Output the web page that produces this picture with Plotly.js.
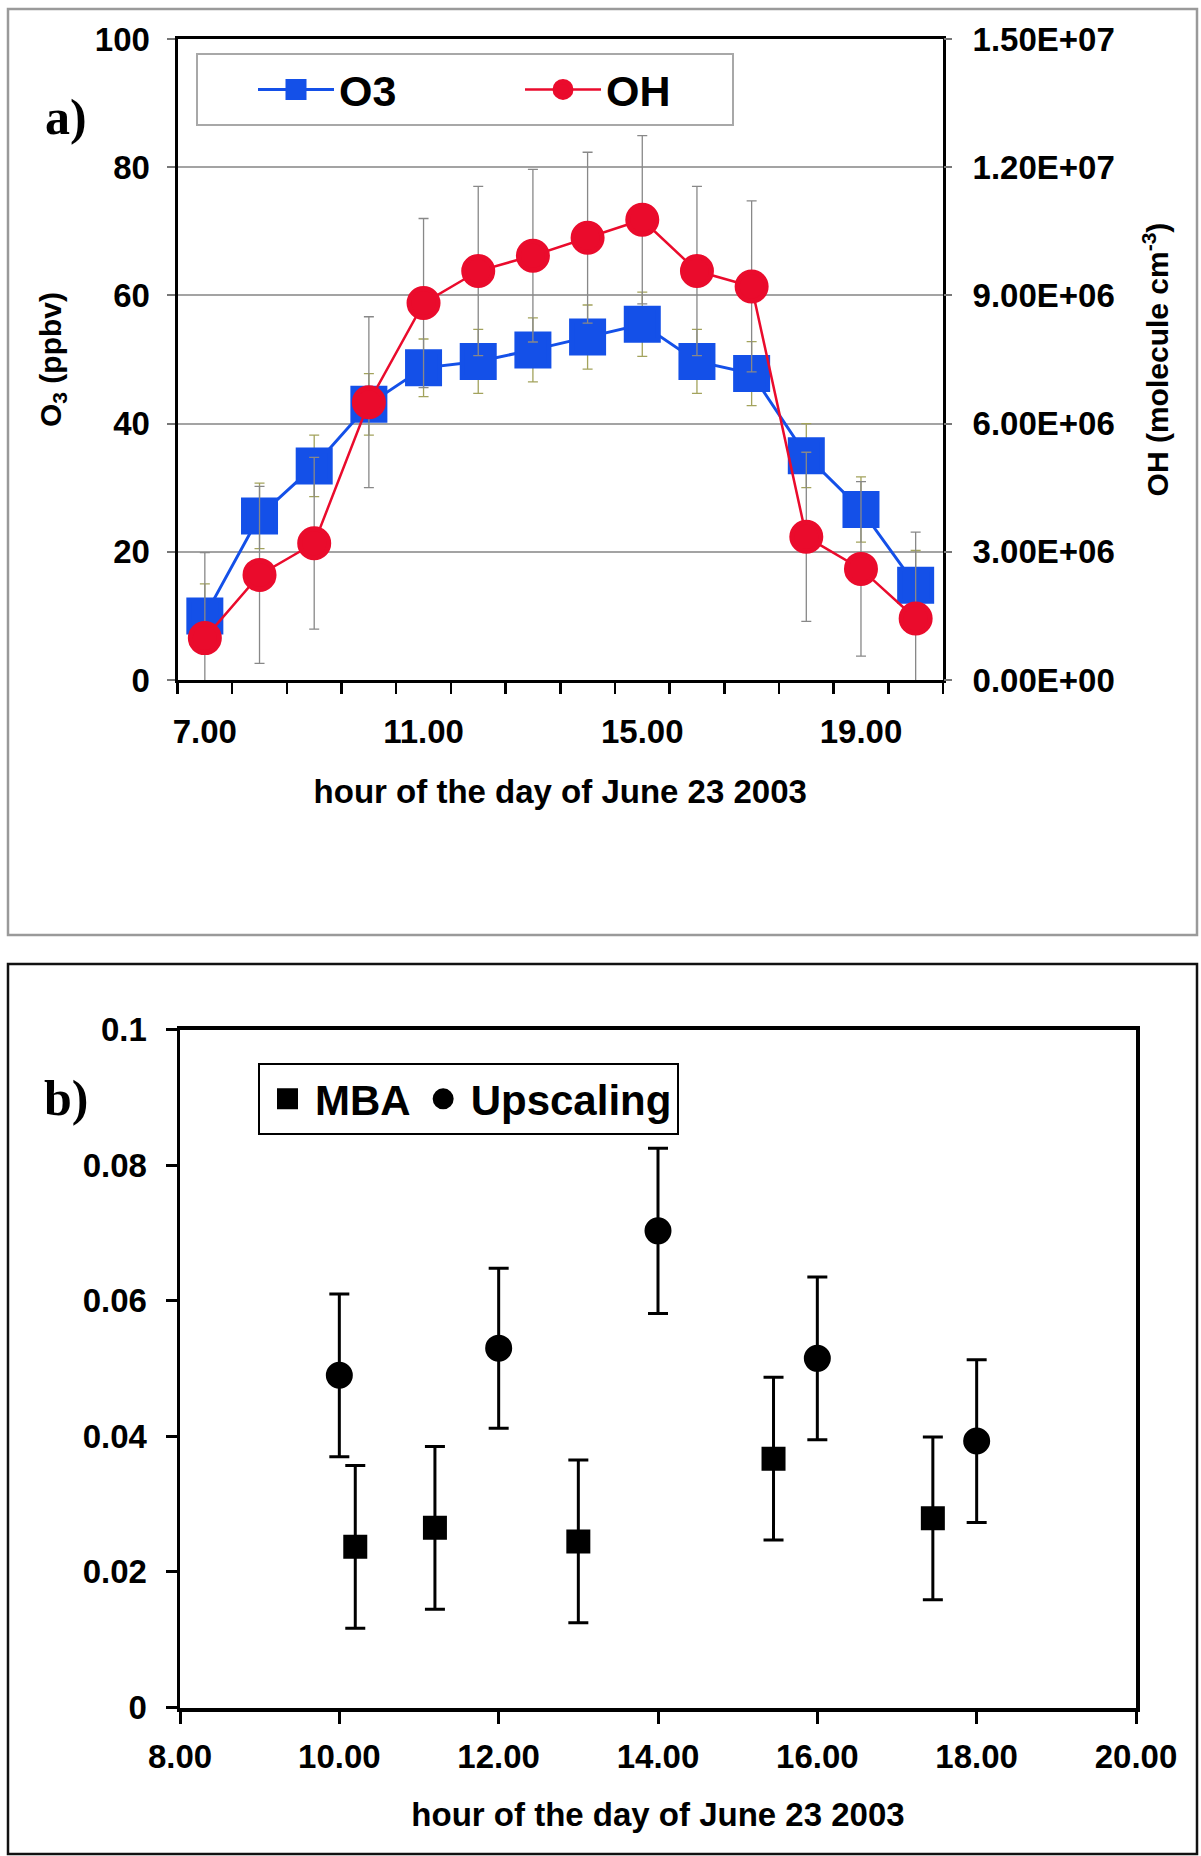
<!DOCTYPE html>
<html>
<head>
<meta charset="utf-8">
<script src="https://cdn.plot.ly/plotly-3.0.1.min.js"></script>
<style>
html,body{margin:0;padding:0;background:#fff;}
#chart{width:1201px;height:1856px;}
</style>
</head>
<body>
<div id="chart"></div>
<script>
// ---------- Panel a data ----------
const hours = [7, 8, 9, 10, 11, 12, 13, 14, 15, 16, 17, 18, 19, 20];
const o3 = [10, 25.6, 33.4, 43, 48.7, 49.7, 51.5, 53.5, 55.5, 49.7, 47.8, 35.0, 26.6, 14.8];
const o3Err = [5, 5.1, 4.8, 4.8, 4.5, 5, 5, 5, 5, 5, 5, 5, 5.1, 5.4];
const oh = [0.98e6, 2.46e6, 3.2e6, 6.5e6, 8.82e6, 9.57e6, 9.93e6, 10.35e6, 10.77e6, 9.57e6, 9.21e6, 3.35e6, 2.6e6, 1.44e6];
const ohErr = [2.0e6, 2.07e6, 2.01e6, 2.0e6, 1.98e6, 1.98e6, 2.02e6, 2.0e6, 1.97e6, 1.98e6, 2.0e6, 1.98e6, 2.04e6, 2.02e6];
const aXTickVals = [7, 11, 15, 19];
const aXTickText = ['7.00', '11.00', '15.00', '19.00'];
const aYTickVals = [0, 20, 40, 60, 80, 100];
const aYTickText = ['0', '20', '40', '60', '80', '100'];
const ohTickVals = [0, 3e6, 6e6, 9e6, 1.2e7, 1.5e7];
const ohTickText = ['0.00E+00', '3.00E+06', '6.00E+06', '9.00E+06', '1.20E+07', '1.50E+07'];

// ---------- Panel b data ----------
const mbaHour = [10.2, 11.2, 13.0, 15.45, 17.45];
const mba = [0.0237, 0.0265, 0.0245, 0.0367, 0.0279];
const mbaErr = [0.012, 0.012, 0.012, 0.012, 0.012];
const upHour = [10, 12, 14, 16, 18];
const up = [0.049, 0.053, 0.0703, 0.0515, 0.0393];
const upErr = [0.012, 0.0118, 0.0122, 0.012, 0.012];
const bXTickVals = [8, 10, 12, 14, 16, 18, 20];
const bXTickText = ['8.00', '10.00', '12.00', '14.00', '16.00', '18.00', '20.00'];
const bYTickVals = [0, 0.02, 0.04, 0.06, 0.08, 0.1];
const bYTickText = ['0', '0.02', '0.04', '0.06', '0.08', '0.1'];

// ---------- layout helpers ----------
const W = 1201, H = 1856;
const px = v => v / W;
const py = v => 1 - v / H;
const FONT = 'Liberation Sans, Arial, sans-serif';
const SERIF = 'Liberation Serif, Times New Roman, serif';
const BLUE = '#1450e8';
const RED = '#ea0b2c';

const traces = [
  {
    name: 'O3', x: hours, y: o3, xaxis: 'x', yaxis: 'y', legend: 'legend',
    type: 'scatter', mode: 'lines+markers',
    line: {color: BLUE, width: 3},
    marker: {symbol: 'square', size: 32, color: BLUE, line: {color: BLUE, width: 5}},
    error_y: {type: 'data', array: o3Err, visible: true, color: '#a3a35c', thickness: 1.3, width: 5},
    cliponaxis: false
  },
  {
    name: 'OH', x: hours, y: oh, xaxis: 'x', yaxis: 'y2', legend: 'legend',
    type: 'scatter', mode: 'lines+markers',
    line: {color: RED, width: 2.5},
    marker: {symbol: 'circle', size: 29, color: RED, line: {color: RED, width: 5}},
    error_y: {type: 'data', array: ohErr, visible: true, color: '#888888', thickness: 1.3, width: 5},
    cliponaxis: false
  },
  {
    name: 'MBA', x: mbaHour, y: mba, xaxis: 'x2', yaxis: 'y3', legend: 'legend2',
    type: 'scatter', mode: 'markers',
    marker: {symbol: 'square', size: 19, color: '#000', line: {color: '#000', width: 5}},
    error_y: {type: 'data', array: mbaErr, visible: true, color: '#000', thickness: 3, width: 10}
  },
  {
    name: 'Upscaling', x: upHour, y: up, xaxis: 'x2', yaxis: 'y3', legend: 'legend2',
    type: 'scatter', mode: 'markers',
    marker: {symbol: 'circle', size: 22, color: '#000', line: {color: '#000', width: 5}},
    error_y: {type: 'data', array: upErr, visible: true, color: '#000', thickness: 3, width: 10}
  }
];

const tickFontA = {family: FONT, size: 33, color: '#000', weight: 'bold'};
const titleFont = {family: FONT, size: 33, color: '#000', weight: 'bold'};
const yTitleFont = {family: FONT, size: 30, color: '#000', weight: 'bold'};

const layout = {
  width: W, height: H,
  margin: {l: 0, r: 0, t: 0, b: 0},
  paper_bgcolor: '#fff', plot_bgcolor: 'rgba(0,0,0,0)',
  showlegend: true,
  xaxis: {
    domain: [px(177.5), px(943)], anchor: 'y', range: [6.5, 20.5],
    tickmode: 'array', tickvals: aXTickVals, ticktext: aXTickText,
    ticks: '', ticklabelstandoff: 20,
    minor: {ticks: 'outside', tick0: 6.5, dtick: 1, ticklen: 11, tickwidth: 2.5, tickcolor: '#000', showgrid: false},
    showline: true, linecolor: '#000', linewidth: 3, mirror: true,
    showgrid: false, zeroline: false, fixedrange: true,
    tickfont: tickFontA,
    title: {text: 'hour of the day of June 23 2003', font: titleFont, standoff: 32}
  },
  yaxis: {
    domain: [py(680), py(39)], anchor: 'x', range: [0, 100],
    tickmode: 'array', tickvals: aYTickVals, ticktext: aYTickText,
    ticks: 'outside', ticklen: 8, tickwidth: 2, tickcolor: '#777', ticklabelstandoff: 10,
    showline: true, linecolor: '#000', linewidth: 3, mirror: true,
    showgrid: true, gridcolor: '#a3a3a3', gridwidth: 2, zeroline: false,
    tickfont: tickFontA,
    title: {text: 'O<sub>3</sub> (ppbv)', font: yTitleFont, standoff: 25}
  },
  yaxis2: {
    overlaying: 'y', side: 'right', anchor: 'x', range: [0, 1.5e7],
    tickmode: 'array', tickvals: ohTickVals, ticktext: ohTickText,
    ticks: 'outside', ticklen: 8, tickwidth: 2, tickcolor: '#777', ticklabelstandoff: 14,
    showline: false, showgrid: false, zeroline: false,
    tickfont: tickFontA,
    title: {text: 'OH (molecule cm<sup>-3</sup>)', font: yTitleFont, standoff: 33}
  },
  xaxis2: {
    domain: [px(180), px(1136)], anchor: 'y3', range: [8, 20],
    tickmode: 'array', tickvals: bXTickVals, ticktext: bXTickText,
    ticks: 'outside', ticklen: 12, tickwidth: 3, tickcolor: '#000', ticklabelstandoff: 5,
    showline: true, linecolor: '#000', linewidth: 4, mirror: true,
    showgrid: false, zeroline: false,
    tickfont: tickFontA,
    title: {text: 'hour of the day of June 23 2003', font: titleFont, standoff: 30}
  },
  yaxis3: {
    domain: [py(1707.5), py(1029.5)], anchor: 'x2', range: [0, 0.1],
    tickmode: 'array', tickvals: bYTickVals, ticktext: bYTickText,
    ticks: 'outside', ticklen: 11, tickwidth: 3, tickcolor: '#000', ticklabelstandoff: 12,
    showline: true, linecolor: '#000', linewidth: 3.5, mirror: true,
    showgrid: false, zeroline: false,
    tickfont: tickFontA
  },
  legend: {
    x: px(196), y: py(53), xanchor: 'left', yanchor: 'top',
    orientation: 'h', bgcolor: '#fff', bordercolor: '#a8a8a8', borderwidth: 2,
    font: {family: FONT, size: 43, color: '#000', weight: 'bold'},
    itemwidth: 76, entrywidth: 121, indentation: 55, valign: 'middle'
  },
  legend2: {
    x: px(258), y: py(1063), xanchor: 'left', yanchor: 'top',
    orientation: 'h', bgcolor: '#fff', bordercolor: '#000', borderwidth: 2,
    font: {family: FONT, size: 42, color: '#000', weight: 'bold'},
    itemwidth: 45, valign: 'middle'
  },
  shapes: [
    {type: 'rect', xref: 'paper', yref: 'paper', x0: px(8), x1: px(1197), y0: py(935), y1: py(9),
     line: {color: '#9a9a9a', width: 2.5}, fillcolor: 'rgba(0,0,0,0)', layer: 'below'},
    {type: 'rect', xref: 'paper', yref: 'paper', x0: px(8), x1: px(1197), y0: py(1854), y1: py(964),
     line: {color: '#111', width: 2.5}, fillcolor: 'rgba(0,0,0,0)', layer: 'below'}
  ],
  annotations: [
    {text: 'a)', xref: 'paper', yref: 'paper', x: px(66), y: py(117), xanchor: 'center', yanchor: 'middle',
     showarrow: false, font: {family: SERIF, size: 50, color: '#000', weight: 'bold'}},
    {text: 'b)', xref: 'paper', yref: 'paper', x: px(66), y: py(1098), xanchor: 'center', yanchor: 'middle',
     showarrow: false, font: {family: SERIF, size: 50, color: '#000', weight: 'bold'}}
  ]
};

Plotly.newPlot('chart', traces, layout, {staticPlot: true, displayModeBar: false});
</script>
</body>
</html>
